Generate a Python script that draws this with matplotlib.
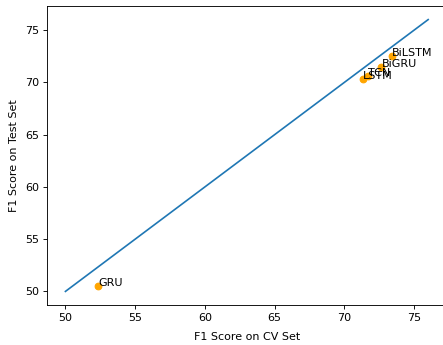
import matplotlib
matplotlib.use("Agg")
import matplotlib.pyplot as plt

models = ["BiLSTM", "BiGRU", "TCN", "LSTM", "GRU"]
cv_scores = [73.4, 72.65, 71.7, 71.35, 52.35]
test_scores = [72.5, 71.5, 70.65, 70.3, 50.55]
diag = [50, 76]

DPI = 80
fig = plt.figure(figsize=(443 / DPI, 345 / DPI), dpi=DPI)
ax = fig.add_axes([47.3 / 443, 40 / 345, 399 / 443, 299 / 345])
ax.plot(diag, diag)
ax.scatter(cv_scores, test_scores, color="orange")
for m, x, y in zip(models, cv_scores, test_scores):
    ax.text(x, y, m)
ax.set_xlabel("F1 Score on CV Set", labelpad=8)
ax.set_ylabel("F1 Score on Test Set", labelpad=6)
fig.savefig("out.png", dpi=DPI)
